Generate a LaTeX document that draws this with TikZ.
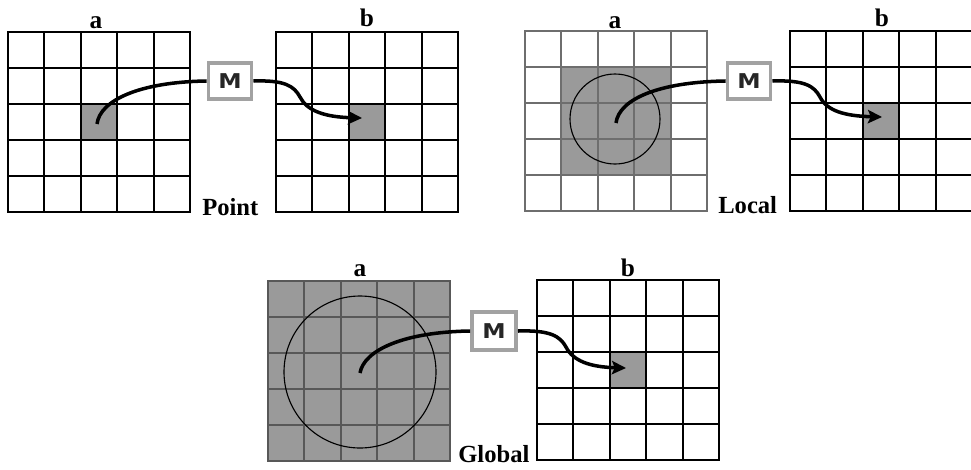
\documentclass[tikz,border=0pt]{standalone}
\usepackage{fontspec}
\setmainfont{Liberation Serif}
\newfontfamily\boxfont{DejaVu Sans}
\usepackage{tikz}
\usetikzlibrary{arrows.meta}
\definecolor{cellgray}{HTML}{9A9A9A}
\definecolor{boxgray}{HTML}{A2A2A2}
\definecolor{localline}{HTML}{6E6E6E}
\definecolor{globalline}{HTML}{585858}

\begin{document}
\begin{tikzpicture}[x=0.025cm, y=-0.025cm,
    gridline/.style={line width=1.5pt, line cap=rect},
    ring/.style={line width=0.8pt, black},
    mbox/.style={rectangle, draw=boxgray, line width=2.8pt, fill=white, inner sep=0pt, minimum width=1.075cm, minimum height=0.9cm, text=black!85, font=\boxfont\bfseries\fontsize{14.5}{14.5}\selectfont},
    title/.style={anchor=base, font=\bfseries\fontsize{18}{18}\selectfont},
    kind/.style={anchor=base west, inner sep=0pt, font=\bfseries\fontsize{17.5}{17.5}\selectfont},
    link/.style={line width=2.5pt, black},
    arrow/.style={line width=2.5pt, black, -{Stealth[length=10pt,width=9.5pt,inset=2pt]}}
]
    \useasboundingbox (0,0) rectangle (971,469);

    % shaded cells
    \fill[cellgray] (80.8,104) rectangle ++(36.4,36);
    \fill[cellgray] (348.8,104) rectangle ++(36.4,36);
    \fill[cellgray] (561.4,67) rectangle ++(109.2,108);
    \fill[cellgray] (862.8,103) rectangle ++(36.4,36);
    \fill[cellgray] (268,281) rectangle ++(182,180);
    \fill[cellgray] (609.8,352) rectangle ++(36.4,36);

    % 5x5 grids
    \foreach \gx/\gy/\gc in {8/32/black, 276/32/black, 525/31/localline, 790/31/black, 268/281/globalline, 537/280/black}{
        \draw[gridline, draw=\gc] (\gx,\gy) rectangle ++(182,180);
        \foreach \k in {1,...,4}{
            \draw[gridline, draw=\gc] ({\gx+36.4*\k},\gy) -- ++(0,180);
            \draw[gridline, draw=\gc] (\gx,{\gy+36*\k}) -- ++(182,0);
        }
    }

    \draw[ring] (615,119) circle[radius=45];
    \draw[ring] (360,372) circle[radius=76];

    % labels
    \node[title] (pa) at (96,28) {a};
    \node[title] (pb) at (367,26) {b};
    \node[title] (la) at (615,28) {a};
    \node[title] (lb) at (882,26) {b};
    \node[title] (ga) at (360,276) {a};
    \node[title] (gb) at (628,276) {b};
    \node[kind] (point) at (202,215) {Point};
    \node[kind] (local) at (718,213) {Local};
    \node[kind] (global) at (458,462) {Global};

    % mapping boxes
    \node[mbox] (m1) at (230,81) {\scalebox{1.15}[1]{M}};
    \node[mbox] (m2) at (749,81) {\scalebox{1.15}[1]{M}};
    \node[mbox, minimum width=1.1cm, minimum height=0.95cm] (m3) at (494,331) {\scalebox{1.15}[1]{M}};

    \coordinate (src1) at (97,124);
    \coordinate (dst1) at (362,118);
    \coordinate (src2) at (616,123);
    \coordinate (dst2) at (882,117);
    \coordinate (src3) at (360,373);
    \coordinate (dst3) at (626,368);

    \draw[link] (src1) .. controls (100,100) and (140,82) .. (m1.west);
    \draw[arrow] (m1.east) .. controls (285,80) and (294,86) .. (300,97) .. controls (307,111) and (325,117) .. (dst1);
    \draw[link] (src2) .. controls (619,99) and (659,82) .. (m2.west);
    \draw[arrow] (m2.east) .. controls (805,80) and (814,86) .. (820,97) .. controls (827,111) and (845,116) .. (dst2);
    \draw[link] (src3) .. controls (364,350) and (404,332) .. (m3.west);
    \draw[arrow] (m3.east) .. controls (550,330) and (560,336) .. (566,347) .. controls (573,361) and (590,367) .. (dst3);
\end{tikzpicture}
\end{document}
